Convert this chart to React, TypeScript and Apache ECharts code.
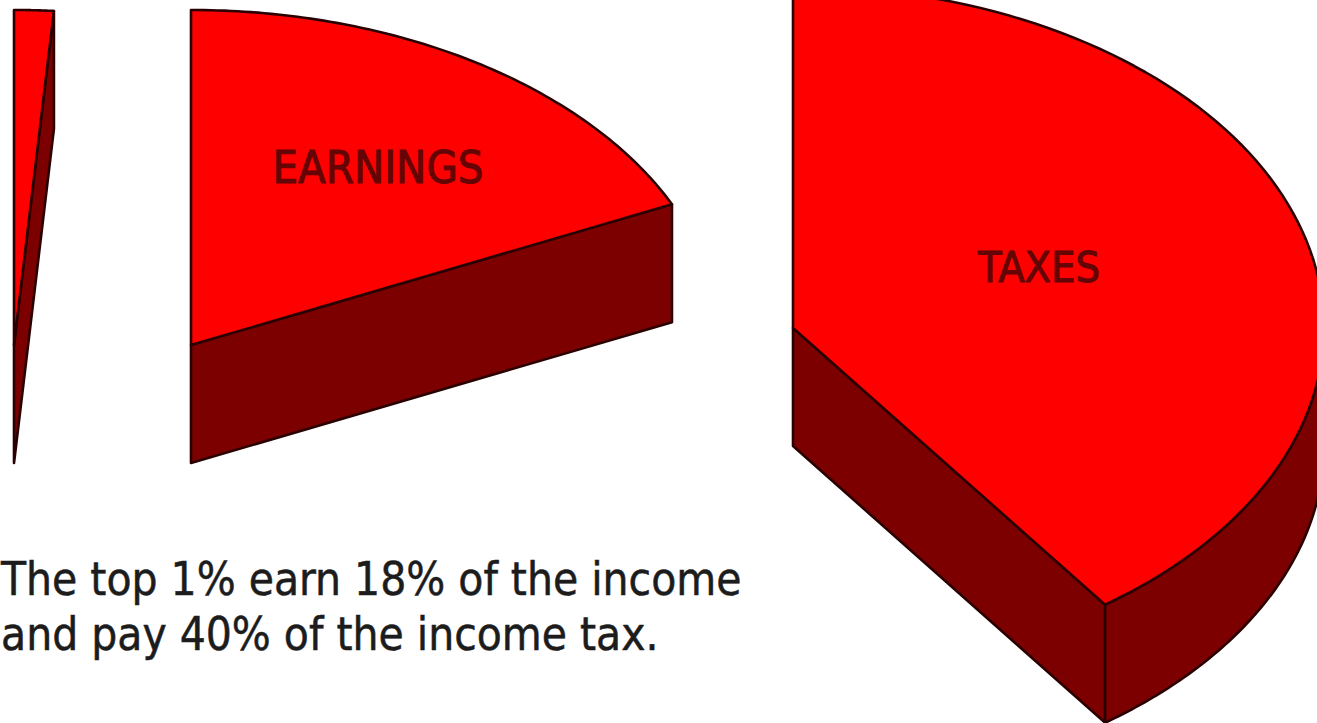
import React, { useEffect, useRef } from "react";
import * as echarts from "echarts";

// Values
const sliceNames = ["", "EARNINGS", "TAXES"];
const sliceShares = [1.2, 18.1, 40];
const captionLines = ["The top 1% earn 18% of the income", "and pay 40% of the income tax."];

// Layout of the exploded pie
const WIDTH = 1317;
const HEIGHT = 723;
const CENTERS = [[14, 345], [191, 345], [793, 328]];
const RADII = [[530, 335], [530, 335], [531, 342]];
const LABEL_POS = [[0, 0], [378, 167], [1039, 267]];
const LABEL_SIZE = [0, 45, 43];
const DEPTH = 118;
const TOP = "#ff0000";
const SIDE = "#7d0000";
const EDGE = "#2a0000";
const FONT = "'DejaVu Sans Condensed', 'DejaVu Sans', sans-serif";

const sliceData = sliceShares.map((share, i) => [i, share]);

function renderSlice(params: any, api: any) {
  const i = api.value(0);
  const share = api.value(1);
  const [cx, cy] = CENTERS[i];
  const [rx, ry] = RADII[i];
  const end = (share / 100) * Math.PI * 2;
  const rim = (a: number, drop = 0) => api.coord([cx + rx * Math.sin(a), cy - ry * Math.cos(a) + drop]);
  const steps = 90;
  const arc = (from: number, to: number, drop = 0) => {
    const pts: number[][] = [];
    for (let s = 0; s <= steps; s++) pts.push(rim(from + ((to - from) * s) / steps, drop));
    return pts;
  };
  const c = api.coord([cx, cy]);
  const cBelow = api.coord([cx, cy + DEPTH]);
  const shapeStyle = (fill: string) => ({ fill, stroke: EDGE, lineWidth: 2.6, lineJoin: "round" });
  const children: any[] = [];
  children.push({
    type: "polygon",
    shape: { points: [c, rim(end), rim(end, DEPTH), cBelow] },
    style: shapeStyle(SIDE),
  });
  if (end > Math.PI / 2) {
    children.push({
      type: "polygon",
      shape: { points: [...arc(Math.PI / 2, end), ...arc(end, Math.PI / 2, DEPTH)] },
      style: shapeStyle(SIDE),
    });
  }
  children.push({
    type: "polygon",
    shape: { points: [c, ...arc(0, end)] },
    style: shapeStyle(TOP),
  });
  const name = sliceNames[i];
  if (name) {
    const p = api.coord(LABEL_POS[i]);
    children.push({
      type: "text",
      style: {
        text: name,
        x: p[0],
        y: p[1],
        fill: "#640404",
        stroke: "#640404",
        lineWidth: 1,
        fontSize: LABEL_SIZE[i],
        fontFamily: FONT,
        textAlign: "center",
        textVerticalAlign: "middle",
      },
    });
  }
  return { type: "group", children };
}

export default function App() {
  const ref = useRef<HTMLDivElement>(null);
  useEffect(() => {
    document.body.style.margin = "0";
    const chart = echarts.init(ref.current!, null, { renderer: "svg" });
    chart.setOption({
      animation: false,
      backgroundColor: "#ffffff",
      grid: { left: 0, right: 0, top: 0, bottom: 0 },
      xAxis: { type: "value", min: 0, max: WIDTH, show: false },
      yAxis: { type: "value", min: 0, max: HEIGHT, inverse: true, show: false },
      series: [
        {
          type: "custom",
          coordinateSystem: "cartesian2d",
          clip: false,
          silent: true,
          data: sliceData,
          renderItem: renderSlice,
        },
      ],
      graphic: captionLines.map((line, i) => ({
        type: "text",
        x: 1,
        y: 579 + i * 55,
        style: {
          text: line,
          fill: "#1c1c1c",
          stroke: "#1c1c1c",
          lineWidth: 0.5,
          fontSize: 45.6,
          fontFamily: FONT,
          textVerticalAlign: "middle",
        },
      })),
    });
    return () => chart.dispose();
  }, []);
  return <div ref={ref} style={{ position: "absolute", left: 0, top: 0, width: WIDTH, height: HEIGHT }} />;
}
